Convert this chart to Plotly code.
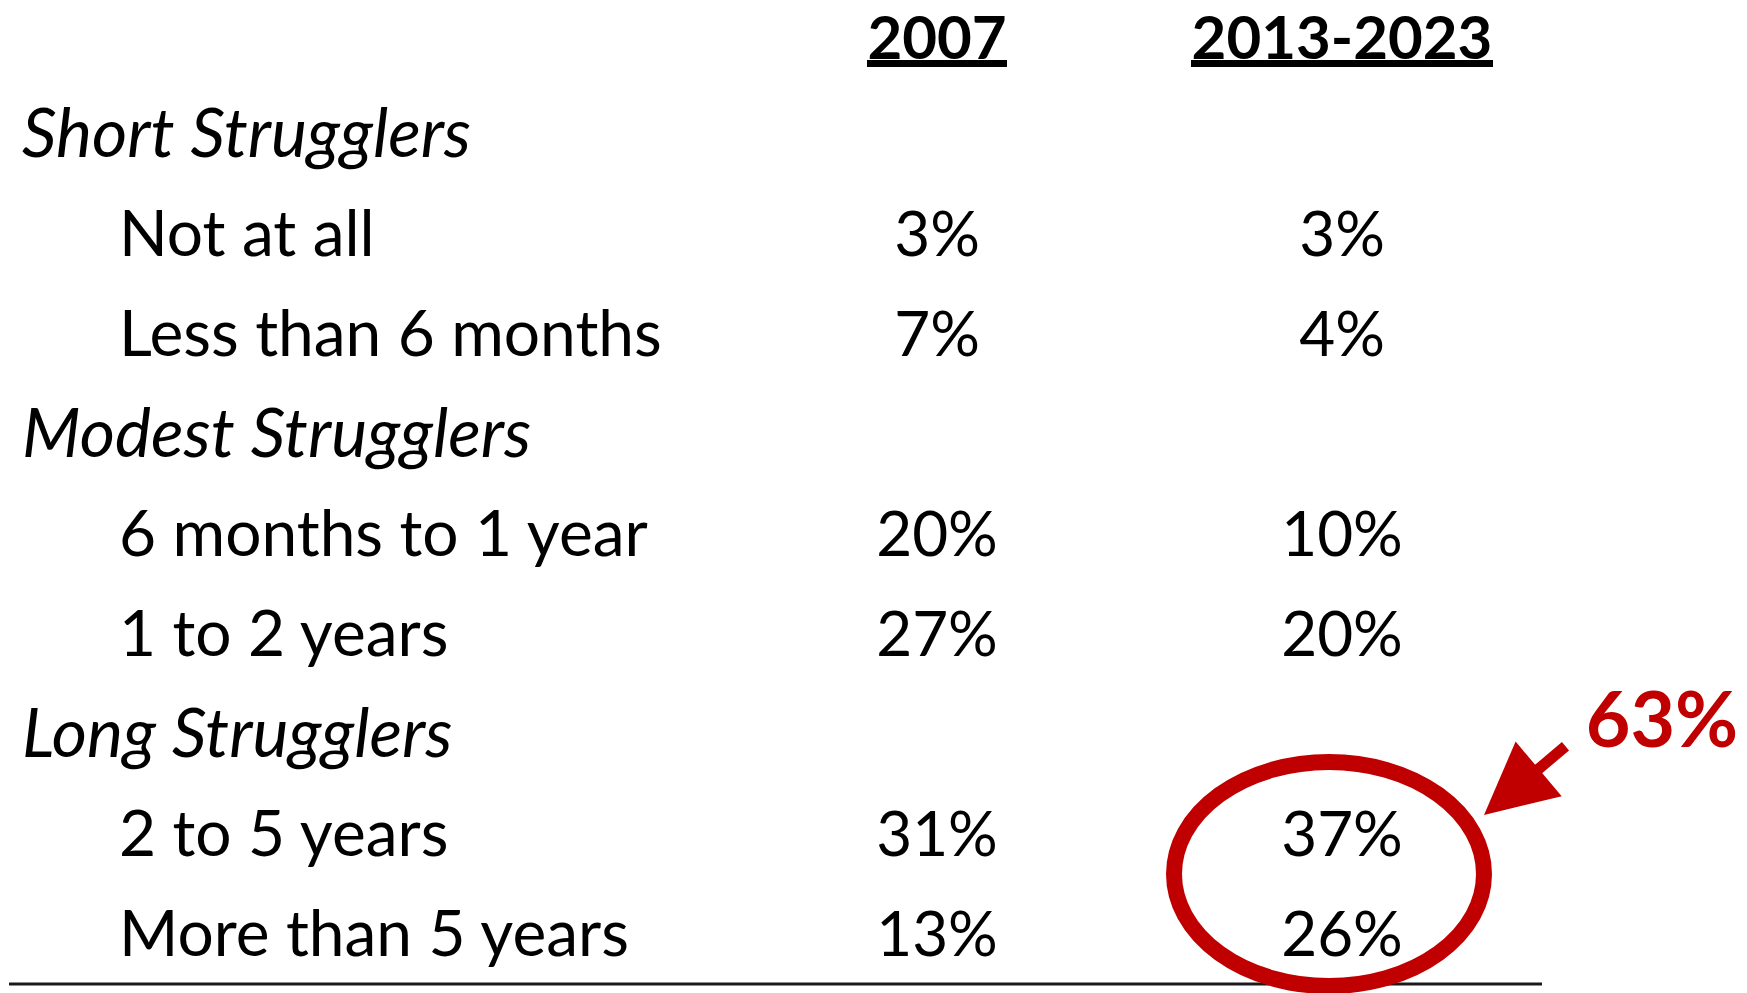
import plotly.graph_objects as go

# ---- data ----
groups = ["Short Strugglers", "Modest Strugglers", "Long Strugglers"]
items_short = ["Not at all", "Less than 6 months"]
items_modest = ["6 months to 1 year", "1 to 2 years"]
items_long = ["2 to 5 years", "More than 5 years"]
periods = ["2007", "2013-2023"]
v2007 = [3, 7, 20, 27, 31, 13]
v2013 = [3, 4, 10, 20, 37, 26]

# ---- layout helpers ----
FONT = "Lato"
RED = "#C00000"
items = items_short + items_modest + items_long
group_rows = [0, 3, 6]
item_rows = [1, 2, 4, 5, 7, 8]
TDY = 0.06  # vertical text nudge (row units)
col_x = [937, 1342]
header_half = [70, 151]
group_x = 22
item_x = 119
BODY = 64

fig = go.Figure()

fig.add_trace(go.Scatter(
    x=[group_x] * len(groups), y=[r + TDY for r in group_rows], text=groups,
    mode="text", textposition="middle right", hoverinfo="skip",
    textfont=dict(family=FONT, size=68, style="italic", color="black")))

fig.add_trace(go.Scatter(
    x=[item_x] * len(items), y=[r + TDY for r in item_rows], text=items,
    mode="text", textposition="middle right", hoverinfo="skip",
    textfont=dict(family=FONT, size=BODY, color="black")))

for cx, vals in zip(col_x, [v2007, v2013]):
    fig.add_trace(go.Scatter(
        x=[cx] * len(vals), y=[r + TDY for r in item_rows],
        text=[f"{v}%" for v in vals],
        mode="text", textposition="middle center", hoverinfo="skip",
        textfont=dict(family=FONT, size=62, color="black")))

fig.add_trace(go.Scatter(
    x=col_x, y=[-0.9, -0.9], text=[f"<b>{p}</b>" for p in periods],
    mode="text", textposition="middle center", hoverinfo="skip",
    textfont=dict(family=FONT, size=60, color="black")))

# header underlines
for cx, hw in zip(col_x, header_half):
    fig.add_shape(type="line", xref="x", yref="y", x0=cx - hw, x1=cx + hw,
                  y0=-0.705, y1=-0.705, line=dict(color="black", width=7))

long_total = v2013[4] + v2013[5]
fig.add_trace(go.Scatter(
    x=[1662], y=[5.94], text=[f"<b>{long_total}%</b>"], mode="text",
    textposition="middle center", hoverinfo="skip",
    textfont=dict(family=FONT, size=77, color=RED)))

# bottom rule
fig.add_shape(type="line", xref="x", yref="y", x0=9, x1=1542, y0=8.5, y1=8.5,
              line=dict(color="#1a1a1a", width=3))
# highlight ellipse around long strugglers in 2013-2023
mid = (item_rows[4] + item_rows[5]) / 2
fig.add_shape(type="circle", xref="x", yref="y",
              x0=col_x[1] - 168, x1=col_x[1] + 142,
              y0=mid - 1.22, y1=mid + 1.02,
              line=dict(color=RED, width=16))

fig.add_annotation(x=1484, y=6.81, ax=1567, ay=6.11, axref="x", ayref="y",
                   xref="x", yref="y", text="", showarrow=True,
                   arrowhead=2, arrowsize=1.3, arrowwidth=11,
                   arrowcolor=RED, standoff=0, startstandoff=0)

fig.update_layout(
    width=1747, height=993,
    margin=dict(l=0, r=0, t=0, b=0),
    paper_bgcolor="white", plot_bgcolor="white",
    showlegend=False,
    xaxis=dict(range=[0, 1747], visible=False, fixedrange=True),
    yaxis=dict(range=[8.59, -1.34], visible=False, fixedrange=True),
)

fig.write_html("out.html", config={"displayModeBar": False},
               post_script="document.body.style.margin='0';document.body.style.overflow='hidden';")
